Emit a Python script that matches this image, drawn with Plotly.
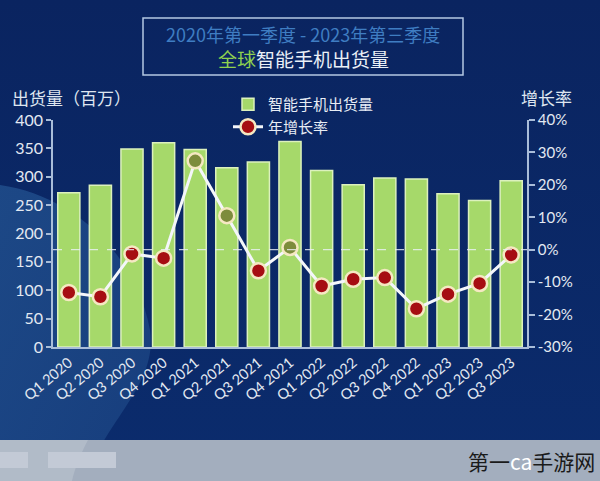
import base64
import plotly.graph_objects as go

quarters = ["Q1 2020", "Q2 2020", "Q3 2020", "Q4 2020", "Q1 2021", "Q2 2021", "Q3 2021",
            "Q4 2021", "Q1 2022", "Q2 2022", "Q3 2022", "Q4 2022", "Q1 2023", "Q2 2023", "Q3 2023"]
shipments = [272, 285, 349, 360, 348, 316, 326, 362, 311, 286, 298, 296, 270, 258, 293]
growth = [-13.2, -14.5, -1.3, -2.6, 27.4, 10.5, -6.5, 0.7, -11.2, -9.1, -8.6, -18.2, -13.7, -10.4, -1.6]

left_ticks = [0, 50, 100, 150, 200, 250, 300, 350, 400]
right_ticks = [-30, -20, -10, 0, 10, 20, 30, 40]
right_labels = [f"{v}%" for v in right_ticks]

# plot-area geometry in pixels (for placing decorations)
L, R, T, B = 53, 527, 120, 347
W, H = 600, 481


def px(x):
    return (x - L) / (R - L)


def py(y):
    return (B - y) / (B - T)


svg = f"""<svg xmlns='http://www.w3.org/2000/svg' width='{W}' height='{H}' viewBox='0 0 {W} {H}'>
<defs>
<linearGradient id='g' x1='0' y1='0' x2='0' y2='1'>
<stop offset='0' stop-color='#0a2460'/><stop offset='1' stop-color='#0b2c6d'/></linearGradient>
<linearGradient id='s' x1='0' y1='0' x2='1' y2='1'>
<stop offset='0' stop-color='#21508e'/><stop offset='1' stop-color='#1a4281'/></linearGradient>
</defs>
<rect width='{W}' height='{H}' fill='url(#g)'/>
<path d='M0,185 C70,195 135,250 150,330 C158,385 105,420 85,481 L0,481 Z' fill='url(#s)' opacity='0.8'/>
<rect y='440' width='{W}' height='41' fill='#a3aebe'/>
<path d='M0,440 L88,440 C80,455 75,468 72,481 L0,481 Z' fill='#b1bbc8'/>
<rect x='0' y='452' width='28' height='16' fill='#c3cad6'/>
<rect x='48' y='452' width='68' height='16' fill='#c3cad6'/>
</svg>"""
src = "data:image/svg+xml;base64," + base64.b64encode(svg.encode()).decode()

dot_colors = ["#7d8c3c" if g > 0 else "#a60d12" for g in growth]

fig = go.Figure()
fig.add_trace(go.Bar(
    x=quarters, y=shipments, name="智能手机出货量",
    marker=dict(color="#a6d96a", line=dict(color="#dcf1bd", width=1.5)),
    width=0.7, yaxis="y",
))
fig.add_trace(go.Scatter(
    x=quarters, y=growth, name="年增长率", yaxis="y2", mode="lines+markers",
    line=dict(color="#f4f6fa", width=3),
    marker=dict(size=15, color=dot_colors, line=dict(color="#f5e8c2", width=2.5)),
))

font_main = "Lato, 'Noto Sans CJK SC', sans-serif"
cjk = "'Noto Sans CJK SC', sans-serif"
tick_color = "#e3e9f2"
axis_color = "#a9bdd9"


def note(text, x, y, size, color, xanchor="center"):
    return dict(text=text, xref="paper", yref="paper", x=px(x), y=py(y),
                xanchor=xanchor, yanchor="middle", showarrow=False,
                font=dict(size=size, color=color, family=cjk))


fig.update_layout(
    width=W, height=H,
    margin=dict(l=L, r=W - R, t=T, b=H - B),
    paper_bgcolor="#0b2866",
    plot_bgcolor="rgba(0,0,0,0)",
    font=dict(family=font_main, color=tick_color),
    showlegend=True,
    bargap=0.3,
    legend=dict(
        x=px(228), y=py(88), xanchor="left", yanchor="top",
        bgcolor="rgba(0,0,0,0)", font=dict(size=15, color="#e8edf5", family=cjk),
        itemwidth=30, tracegroupgap=2,
    ),
    xaxis=dict(
        range=[-0.5, len(quarters) - 0.5], autorange=False,
        tickangle=-40, tickfont=dict(size=14.5, color=tick_color),
        showline=True, linecolor=axis_color, linewidth=1.5,
        ticks="", showgrid=False, zeroline=False,
    ),
    yaxis=dict(
        range=[0, 400], tickvals=left_ticks, tickfont=dict(size=16, color=tick_color),
        showline=True, linecolor=axis_color, linewidth=1.5,
        ticks="outside", ticklen=5, tickcolor=axis_color, tickwidth=1.5,
        showgrid=False, zeroline=False,
    ),
    yaxis2=dict(
        range=[-30, 40], tickvals=right_ticks, ticktext=right_labels,
        overlaying="y", side="right",
        tickfont=dict(size=15, color=tick_color),
        showline=True, linecolor=axis_color, linewidth=1.5,
        ticks="outside", ticklen=6, tickcolor=axis_color, tickwidth=1.5,
        showgrid=False, zeroline=False,
    ),
    images=[dict(
        source=src, xref="paper", yref="paper",
        x=px(0), y=py(0), sizex=px(W) - px(0), sizey=py(0) - py(H),
        xanchor="left", yanchor="top", sizing="stretch", layer="below",
    )],
    shapes=[
        dict(type="line", xref="paper", yref="y2", x0=0, x1=1, y0=0, y1=0,
             line=dict(color="rgba(235,240,248,0.8)", width=1.2, dash="dash"), layer="above"),
        dict(type="rect", xref="paper", yref="paper", x0=px(143), x1=px(463),
             y0=py(18), y1=py(75), line=dict(color="#b4c8e2", width=1.5),
             fillcolor="rgba(0,0,0,0)"),
    ],
    annotations=[
        note("2020年第一季度 - 2023年第三季度", 303, 34, 18, "#3f7dc2"),
        note("<span style='color:#8fd14f'>全球</span>智能手机出货量", 303, 58, 19, "#eaf0f7"),
        note("出货量（百万）", 10, 98, 17, "#dfe6f0", "left"),
        note("增长率", 519, 98, 17, "#dfe6f0", "left"),
        note("第一<span style='color:#ffffff'>ca</span>手游网", 597, 461, 21, "#1a1a1a", "right"),
    ],
)

fig.write_html("out.html", config={"displayModeBar": False},
               post_script="document.body.style.margin='0';document.body.style.overflow='hidden';")
